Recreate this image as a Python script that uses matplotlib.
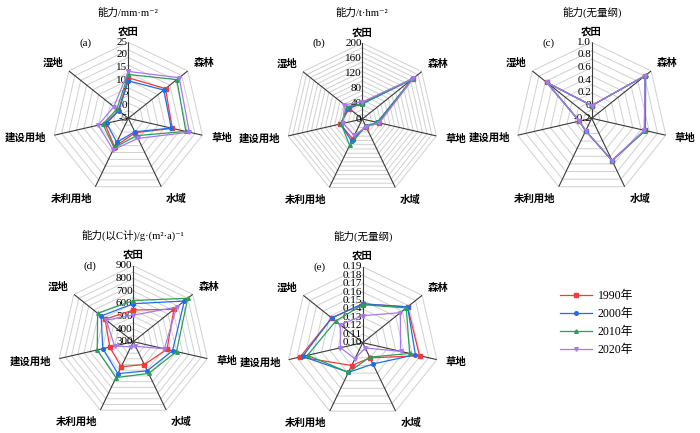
import numpy as np
import matplotlib
matplotlib.use('Agg')
import matplotlib.pyplot as plt
from matplotlib.lines import Line2D

plt.rcParams['font.family'] = ['Liberation Serif', 'DejaVu Serif', 'Noto Sans CJK SC']

categories = ['农田', '森林', '草地', '水域', '未利用地', '建设用地', '湿地']
years = ['1990年', '2000年', '2010年', '2020年']

# (a) 能力/mm·m-2
a_1990 = [11.0, 13.8, 12.8, 1.3, 7.5, 4.5, 0.0]
a_2000 = [9.8, 12.9, 12.4, 0.9, 5.5, 3.8, -0.2]
a_2010 = [12.3, 19.5, 18.3, 2.6, 7.9, 5.3, 0.8]
a_2020 = [13.5, 20.7, 19.7, 3.8, 8.8, 7.2, 2.3]
a_ticks = [-5, 0, 5, 10, 15, 20, 25]

# (b) 能力/t·hm-2
b_1990 = [42, 170, 44, 22, 58, 60, 44]
b_2000 = [40, 168, 40, 21, 65, 58, 48]
b_2010 = [40, 168, 41, 21, 77, 57, 52]
b_2020 = [45, 172, 46, 23, 48, 52, 60]
b_ticks = [0, 40, 80, 120, 160, 200]

# (c) 能力(无量纲)
c_1990 = [0.0, 0.88, 0.66, 0.54, 0.02, 0.0, 0.71]
c_2000 = [0.0, 0.88, 0.66, 0.54, 0.02, 0.0, 0.71]
c_2010 = [0.0, 0.89, 0.67, 0.54, 0.02, 0.0, 0.71]
c_2020 = [0.0, 0.88, 0.65, 0.54, 0.02, 0.0, 0.71]
c_ticks = [-0.2, 0, 0.2, 0.4, 0.6, 0.8, 1.0]
c_labels = ['-0.2', '0', '0.2', '0.4', '0.6', '0.8', '1.0']

# (d) 能力(以C计)/g·(m2·a)-1
d_1990 = [550, 710, 573, 500, 520, 490, 585]
d_2000 = [600, 815, 618, 555, 580, 547, 625]
d_2010 = [625, 850, 650, 578, 615, 592, 660]
d_2020 = [510, 737, 552, 340, 345, 452, 573]
d_ticks = [300, 400, 500, 600, 700, 800, 900]

# (e) 能力(无量纲)
e_1990 = [0.146, 0.168, 0.169, 0.120, 0.130, 0.176, 0.147]
e_2000 = [0.146, 0.168, 0.164, 0.128, 0.139, 0.173, 0.147]
e_2010 = [0.145, 0.166, 0.157, 0.119, 0.139, 0.167, 0.141]
e_2020 = [0.132, 0.157, 0.146, 0.107, 0.121, 0.127, 0.134]
e_ticks = [0.10, 0.11, 0.12, 0.13, 0.14, 0.15, 0.16, 0.17, 0.18, 0.19]

colors = ['#f43a3a', '#1f6ee8', '#2c9d5c', '#a878f0']
markers = ['s', 'o', '^', 'v']

W, H = 700, 433
R = 76
angles = np.arange(7) * 2 * np.pi / 7
closed = np.append(angles, angles[0])

# label placement per category: offset (pt), ha, va
lab_pos = [((0, 4), 'center', 'bottom'), ((4, 2), 'left', 'bottom'),
           ((6.5, -2), 'left', 'center'), ((3.5, -5), 'left', 'top'),
           ((-2.5, -5), 'right', 'top'), ((-5.5, -2), 'right', 'center'),
           ((-4, 2), 'right', 'bottom')]

fig = plt.figure(figsize=(W / 100, H / 100), dpi=100)


def radar(cx, cy, series, ticks, ticklabels, nrings, title, letter):
    ax = fig.add_axes([(cx - R) / W, (H - cy - R) / H, 2 * R / W, 2 * R / H],
                      projection='polar')
    rmin, rmax = ticks[0], ticks[-1]
    ax.set_theta_zero_location('N')
    ax.set_theta_direction(-1)
    ax.set_ylim(rmin, rmax)
    ax.grid(False)
    ax.spines['polar'].set_visible(False)
    ax.set_yticks([])
    ax.set_xticks([])
    ax.set_facecolor('none')
    # heptagon grid and spokes
    for lev in np.linspace(rmin, rmax, nrings + 1)[1:]:
        ax.plot(closed, [lev] * 8, color='#d0d0d0', lw=0.7, zorder=1)
    for t in angles:
        ax.plot([t, t], [rmin, rmax], color='#3a3a3a', lw=0.8, zorder=2)
    for v, lab in zip(ticks, ticklabels):
        ax.annotate(lab, (0, v), xytext=(-0.5, 0), textcoords='offset points',
                    ha='right', va='center', fontsize=8, zorder=3)
    for t, name, (off, ha, va) in zip(angles, categories, lab_pos):
        ax.annotate(name, (t, rmax), xytext=off, textcoords='offset points',
                    ha=ha, va=va, fontsize=7.5, fontweight='bold')
    for vals, c, m in zip(series, colors, markers):
        ax.plot(closed, list(vals) + [vals[0]], color=c, marker=m, ms=2.6,
                lw=0.9, zorder=4, clip_on=False)
    ax.text(0.5, 0.5 + 106 / (2 * R), title, transform=ax.transAxes,
            ha='center', va='center', fontsize=7.6)
    ax.text(0.5 - 43 / (2 * R), 0.5 + 75.5 / (2 * R), letter,
            transform=ax.transAxes, ha='center', va='center', fontsize=8)
    return ax


radar(128.3, 118.3, [a_1990, a_2000, a_2010, a_2020], a_ticks,
      [str(t) for t in a_ticks], 10, '能力/mm·m⁻²', '(a)')
radar(362.3, 119, [b_1990, b_2000, b_2010, b_2020], b_ticks,
      [str(t) for t in b_ticks], 16, '能力/t·hm⁻²', '(b)')
radar(591.7, 118.3, [c_1990, c_2000, c_2010, c_2020], c_ticks,
      c_labels, 9, '能力(无量纲)', '(c)')
radar(133.3, 341.7, [d_1990, d_2000, d_2010, d_2020], d_ticks,
      [str(t) for t in d_ticks], 12, '能力(以C计)/g·(m²·a)⁻¹', '(d)')
radar(362.7, 342.7, [e_1990, e_2000, e_2010, e_2020], e_ticks,
      ['%.2f' % t for t in e_ticks], 9, '能力(无量纲)', '(e)')

handles = [Line2D([], [], color=c, marker=m, ms=2.6, lw=0.9)
           for c, m in zip(colors, markers)]
fig.legend(handles, years, loc='center left', bbox_to_anchor=(560 / W, 1 - 323 / H),
           frameon=False, fontsize=8.5, handlelength=2.7, handletextpad=0.5,
           labelspacing=0.5, borderpad=0, borderaxespad=0)

fig.savefig('out.png', dpi=100)
